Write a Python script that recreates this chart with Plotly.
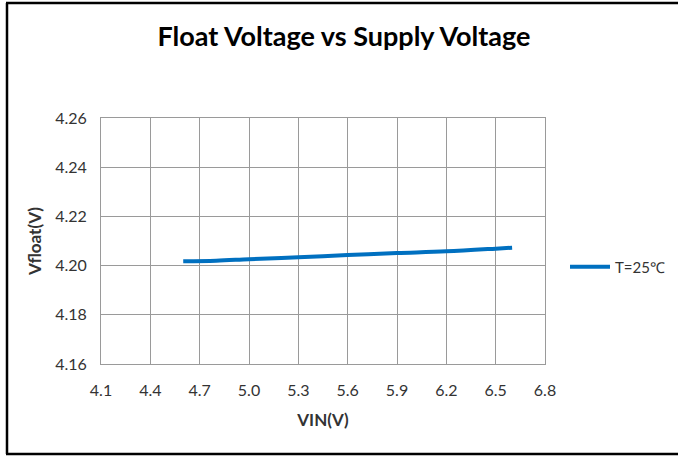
import plotly.graph_objects as go

vin = [4.6, 4.8, 5.0, 5.3, 5.6, 5.9, 6.2, 6.5, 6.6]
vfloat = [4.2018, 4.2020, 4.2026, 4.2034, 4.2043, 4.2051, 4.2058, 4.2069, 4.2073]
x_ticks = [4.1, 4.4, 4.7, 5.0, 5.3, 5.6, 5.9, 6.2, 6.5, 6.8]
y_ticks = [4.16, 4.18, 4.20, 4.22, 4.24, 4.26]
series_name = "T=25℃"

W, H = 678, 456
L, R, T, B = 101, 133, 118, 92
pw, ph = W - L - R, H - T - B

def px(x):
    return (x - L) / pw

def py(y):
    return (H - B - y) / ph

fig = go.Figure()
fig.add_trace(go.Scatter(x=vin, y=vfloat, mode="lines", name=series_name,
                         line=dict(color="#0070C0", width=4, shape="spline")))

grid = "#9A9A9A"
txt = "#333333"
fig.update_layout(
    width=W, height=H,
    margin=dict(l=L, r=R, t=T, b=B, autoexpand=False),
    paper_bgcolor="white", plot_bgcolor="white",
    font=dict(family="Lato, Carlito, sans-serif", color=txt, size=16),
    title=dict(text="<b>Float Voltage vs Supply Voltage</b>", x=344 / W, xanchor="center",
               y=1 - 37 / H, yanchor="middle",
               font=dict(size=27, color="black", family="Lato, sans-serif")),
    showlegend=True,
    legend=dict(x=px(565), y=py(267), xanchor="left", yanchor="middle", itemwidth=40,
                font=dict(size=15, color=txt), bgcolor="rgba(0,0,0,0)"),
    xaxis=dict(range=[4.1, 6.8], tickvals=x_ticks, ticktext=[f"{v:.1f}" for v in x_ticks],
               showgrid=True, gridcolor=grid, gridwidth=1, showline=True, linecolor=grid,
               linewidth=1, mirror=True, zeroline=False, ticks="", ticklabelstandoff=12,
               tickfont=dict(size=16, color=txt),
               title=dict(text="<b>VIN(V)</b>", font=dict(size=17, color=txt), standoff=15)),
    yaxis=dict(range=[4.16, 4.26], tickvals=y_ticks, ticktext=[f"{v:.2f}" for v in y_ticks],
               showgrid=True, gridcolor=grid, gridwidth=1, showline=True, linecolor=grid,
               linewidth=1, mirror=True, zeroline=False, ticks="", ticklabelstandoff=10,
               tickfont=dict(size=16, color=txt),
               title=dict(text="<b>Vfloat(V)</b>", font=dict(size=17, color=txt), standoff=9)),
)

frame = dict(color="black", width=2.5)
fig.add_shape(type="line", xref="paper", yref="paper", x0=px(7), x1=px(7), y0=py(3), y1=py(454), line=frame)
fig.add_shape(type="line", xref="paper", yref="paper", x0=px(6), x1=px(680), y0=py(3), y1=py(3), line=frame)
fig.add_shape(type="line", xref="paper", yref="paper", x0=px(6), x1=px(680), y0=py(454), y1=py(454), line=frame)

fig.write_html("out.html", config={"displayModeBar": False},
               post_script="document.body.style.margin='0';document.body.style.overflow='hidden';")
